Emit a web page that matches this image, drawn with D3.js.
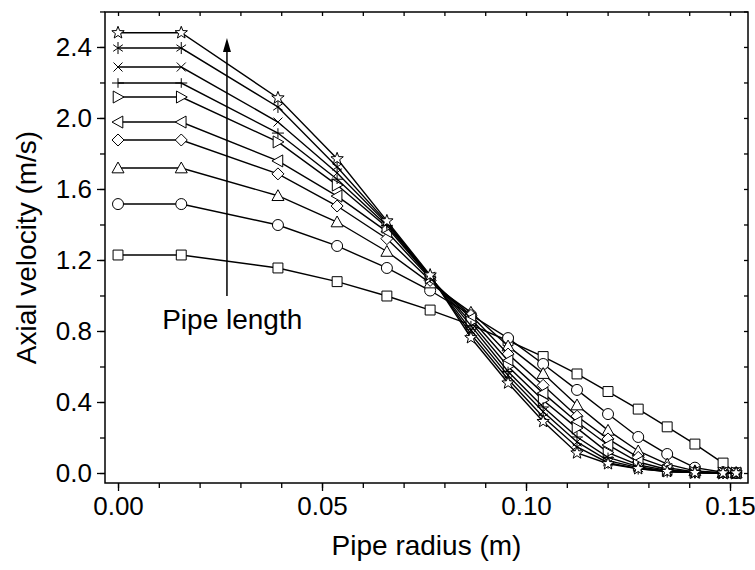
<!DOCTYPE html>
<html><head><meta charset="utf-8">
<script src="https://cdn.jsdelivr.net/npm/d3@7"></script>
<style>body{margin:0;background:#fff;} svg{display:block;} text{font-family:"Liberation Sans",Arial,sans-serif;fill:#000;}</style>
</head><body><svg id="c" width="755" height="570"></svg>
<script>
// Pipe radius positions (m)
const radius = [0, 0.0155, 0.0392, 0.0537, 0.0659, 0.0765, 0.0865, 0.0956, 0.1042, 0.1125, 0.1201, 0.1275, 0.1346, 0.1414, 0.1483, 0.1515];
// Axial velocity (m/s) for each pipe length position
const vSquare   = [1.228, 1.228, 1.155, 1.078, 0.997, 0.918, 0.835, 0.745, 0.656, 0.558, 0.459, 0.360, 0.260, 0.163, 0.056, 0.000];
const vCircle   = [1.515, 1.515, 1.397, 1.279, 1.155, 1.028, 0.890, 0.760, 0.614, 0.468, 0.332, 0.203, 0.107, 0.030, 0.004, 0.000];
const vTriangle = [1.718, 1.718, 1.562, 1.414, 1.248, 1.070, 0.905, 0.715, 0.560, 0.383, 0.240, 0.124, 0.050, 0.012, 0.002, 0.000];
const vDiamond  = [1.876, 1.876, 1.685, 1.504, 1.320, 1.085, 0.888, 0.670, 0.494, 0.320, 0.192, 0.088, 0.030, 0.006, 0.001, 0.000];
const vLeftTri  = [1.977, 1.977, 1.758, 1.560, 1.360, 1.095, 0.870, 0.632, 0.450, 0.287, 0.158, 0.062, 0.020, 0.004, 0.000, 0.000];
const vRightTri = [2.118, 2.118, 1.865, 1.622, 1.385, 1.100, 0.850, 0.600, 0.410, 0.253, 0.115, 0.046, 0.014, 0.003, 0.000, 0.000];
const vPlus     = [2.197, 2.197, 1.915, 1.655, 1.395, 1.105, 0.830, 0.572, 0.372, 0.203, 0.088, 0.036, 0.010, 0.002, 0.000, 0.000];
const vTimes    = [2.287, 2.287, 1.977, 1.690, 1.405, 1.108, 0.805, 0.550, 0.345, 0.175, 0.070, 0.030, 0.008, 0.002, 0.000, 0.000];
const vAster    = [2.394, 2.394, 2.062, 1.724, 1.412, 1.110, 0.782, 0.528, 0.315, 0.147, 0.058, 0.025, 0.008, 0.002, 0.000, 0.000];
const vStar     = [2.480, 2.480, 2.113, 1.770, 1.420, 1.115, 0.762, 0.507, 0.290, 0.113, 0.052, 0.024, 0.008, 0.002, 0.000, 0.000];

const seriesNames = ["square","circle","triangle","diamond","leftTri","rightTri","plus","times","aster","star"];
const seriesValues = [vSquare, vCircle, vTriangle, vDiamond, vLeftTri, vRightTri, vPlus, vTimes, vAster, vStar];

const xTicks = [0, 0.05, 0.10, 0.15];
const xTickLabels = ["0.00", "0.05", "0.10", "0.15"];
const yTicks = [0, 0.4, 0.8, 1.2, 1.6, 2.0, 2.4];
const yTickLabels = ["0.0", "0.4", "0.8", "1.2", "1.6", "2.0", "2.4"];
const xMinor = d3.range(0, 0.1551, 0.01);
const yMinor = d3.range(0, 2.61, 0.2);

const xTitle = "Pipe radius (m)";
const yTitle = "Axial velocity (m/s)";
const annText = "Pipe length";
// annotation arrow (data coordinates)
const arrowX = [0.0267];
const arrowY = [0.997, 2.45];
const annPos = [0.0280, 0.81];

const M = {l:105, r:7, t:12, b:87};
const W = 755, H = 570;
const svg = d3.select("#c");
const x = d3.scaleLinear().domain([-0.00319, 0.15441]).range([M.l, W - M.r]);
const y = d3.scaleLinear().domain([-0.0563, 2.597]).range([H - M.b, M.t]);

const FS = 26, FT = 28;
const g = svg.append("g");

// Axes
function axisStyle(sel){ sel.select(".domain").remove(); sel.selectAll("line").attr("stroke","#000").attr("stroke-width",1.3); }
const bottomMajor = g.append("g").attr("transform",`translate(0,${H-M.b})`)
  .call(d3.axisBottom(x).tickValues(xTicks).tickFormat((d,i)=>xTickLabels[i]).tickSize(8).tickPadding(6));
axisStyle(bottomMajor);
bottomMajor.selectAll("text").attr("font-size",FS).attr("font-family","Liberation Sans, Arial, sans-serif");
const bottomMinor = g.append("g").attr("transform",`translate(0,${H-M.b})`)
  .call(d3.axisBottom(x).tickValues(xMinor).tickFormat("").tickSize(5));
axisStyle(bottomMinor);
const topMinor = g.append("g").attr("transform",`translate(0,${M.t})`)
  .call(d3.axisBottom(x).tickValues(xMinor).tickFormat("").tickSize(4));
axisStyle(topMinor);

const leftMajor = g.append("g").attr("transform",`translate(${M.l},0)`)
  .call(d3.axisLeft(y).tickValues(yTicks).tickFormat((d,i)=>yTickLabels[i]).tickSize(8).tickPadding(5));
axisStyle(leftMajor);
leftMajor.selectAll("text").attr("font-size",FS).attr("font-family","Liberation Sans, Arial, sans-serif");
const leftMinor = g.append("g").attr("transform",`translate(${M.l},0)`)
  .call(d3.axisLeft(y).tickValues(yMinor).tickFormat("").tickSize(5));
axisStyle(leftMinor);
const rightMinor = g.append("g").attr("transform",`translate(${W-M.r},0)`)
  .call(d3.axisLeft(y).tickValues(yMinor).tickFormat("").tickSize(4));
axisStyle(rightMinor);

g.append("rect").attr("x",M.l).attr("y",M.t).attr("width",W-M.r-M.l).attr("height",H-M.b-M.t)
  .attr("fill","none").attr("stroke","#000").attr("stroke-width",1.5);

// Titles
g.append("text").attr("x",(M.l + W - M.r)/2).attr("y",555).attr("text-anchor","middle").attr("font-size",FT).text(xTitle);
g.append("text").attr("transform",`translate(36,${(M.t + H - M.b)/2}) rotate(-90)`).attr("text-anchor","middle").attr("font-size",FT).text(yTitle);

// Marker path generators (size in px)
function markerPath(type, s){
  const h = s/2;
  switch(type){
    case "square": return `M${-h*0.9},${-h*0.9}H${h*0.9}V${h*0.9}H${-h*0.9}Z`;
    case "circle": return d3.arc()({innerRadius:0,outerRadius:h,startAngle:0,endAngle:2*Math.PI});
    case "triangle": return `M0,${-h}L${h},${h*0.8}L${-h},${h*0.8}Z`;
    case "diamond": return `M0,${-h}L${h},0L0,${h}L${-h},0Z`;
    case "leftTri": return `M${-h},0L${h*0.8},${-h}L${h*0.8},${h}Z`;
    case "rightTri": return `M${h},0L${-h*0.8},${-h}L${-h*0.8},${h}Z`;
    case "plus": return `M${-h},0H${h}M0,${-h*0.8}V${h*0.8}`;
    case "times": return `M${-h*0.75},${-h*0.75}L${h*0.75},${h*0.75}M${-h*0.75},${h*0.75}L${h*0.75},${-h*0.75}`;
    case "aster": return `M0,${-h}V${h}M${-h*0.8},${-h*0.55}L${h*0.8},${h*0.55}M${-h*0.8},${h*0.55}L${h*0.8},${-h*0.55}`;
    case "star": {
      let p = [];
      for (let i=0;i<10;i++){ const r = i%2===0 ? h : h*0.42; const a = -Math.PI/2 + i*Math.PI/5; p.push([r*Math.cos(a), r*Math.sin(a)]); }
      return "M" + p.map(q=>q[0].toFixed(2)+","+q[1].toFixed(2)).join("L") + "Z";
    }
  }
}
const markerSize = {square:11, circle:11, triangle:12, diamond:12, leftTri:12, rightTri:12, plus:12, times:12, aster:12, star:13};
const line = d3.line().x((d,i)=>x(radius[i])).y(d=>y(d));

seriesValues.forEach((vals, si) => {
  const name = seriesNames[si];
  const sg = g.append("g");
  sg.append("path").attr("d", line(vals)).attr("fill","none").attr("stroke","#000").attr("stroke-width",1.4);
  const open = !["plus","times","aster"].includes(name);
  sg.selectAll("path.m").data(vals).join("path").attr("class","m")
    .attr("transform",(d,i)=>`translate(${x(radius[i])},${y(d)})`)
    .attr("d", markerPath(name, markerSize[name]))
    .attr("fill", open ? "#fff" : "none").attr("stroke","#000").attr("stroke-width",1);
});

// Annotation arrow
const ax = x(arrowX[0]), ay0 = y(arrowY[0]), ay1 = y(arrowY[1]);
g.append("line").attr("x1",ax).attr("x2",ax).attr("y1",ay0).attr("y2",ay1+10).attr("stroke","#000").attr("stroke-width",1.5);
g.append("path").attr("d",`M${ax},${ay1}L${ax+4},${ay1+14}L${ax-4},${ay1+14}Z`).attr("fill","#000");
g.append("text").attr("x",x(annPos[0])).attr("y",y(annPos[1])).attr("text-anchor","middle").attr("font-size",FT).text(annText);
</script></body></html>
